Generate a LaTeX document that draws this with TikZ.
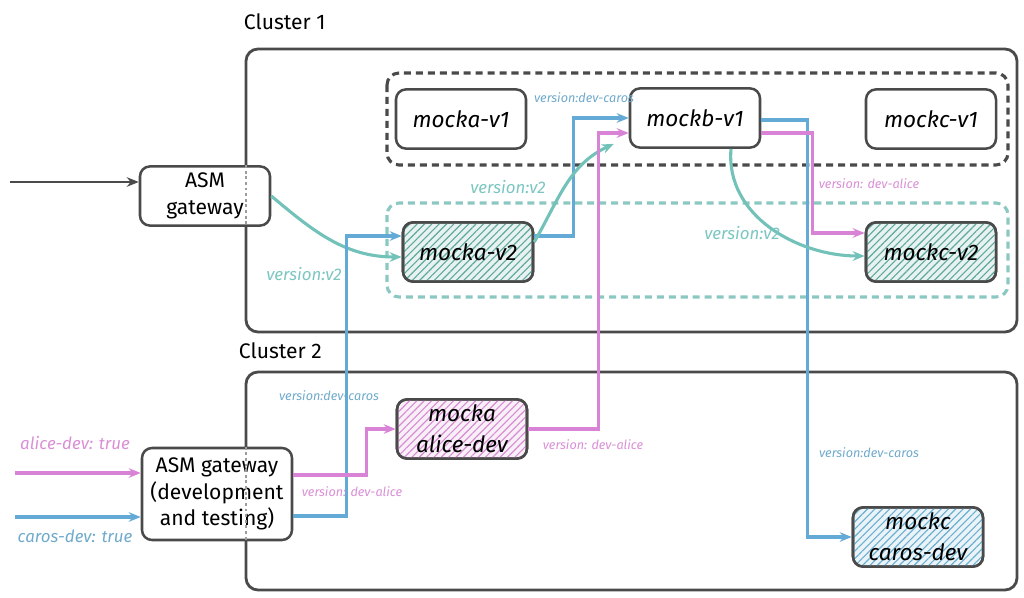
\documentclass[tikz,border=0pt]{standalone}
\usepackage{fontspec}
\setmainfont{Fira Sans}
\usetikzlibrary{arrows.meta,positioning,patterns.meta}
\definecolor{ink}{HTML}{4A4A4A}
\definecolor{tealline}{HTML}{72C2B9}
\definecolor{tealtext}{HTML}{7CC6C1}
\definecolor{tealgrp}{HTML}{8CC8C2}
\definecolor{tealhatch}{HTML}{5EA89C}
\definecolor{blueline}{HTML}{64AAD7}
\definecolor{bluetext}{HTML}{6FAACB}
\definecolor{bluehatch}{HTML}{6AAED0}
\definecolor{pinkline}{HTML}{D883D6}
\definecolor{pinktext}{HTML}{D98FD6}
\definecolor{pinkhatch}{HTML}{D58CD0}
\tikzset{
  cluster/.style={draw=ink, line width=2pt, rounded corners=3mm},
  grpblack/.style={draw=ink, line width=2.2pt, dash pattern=on 5pt off 3.5pt, rounded corners=3mm},
  grpteal/.style={grpblack, draw=tealgrp},
  svc/.style={draw=ink, line width=1.8pt, rounded corners=2.5mm, fill=white, align=center,
    minimum width=32.5mm, minimum height=14.8mm, font=\fontsize{16}{22}\selectfont\itshape},
  hatchbox/.style={svc, fill=#1!14, postaction={pattern={Lines[angle=45,distance=1.3mm,line width=0.8pt]},
    pattern color=#1}, postaction={draw=ink, line width=1.8pt}},
  gwbox/.style={svc, font=\fontsize{15}{19}\selectfont, inner sep=1pt},
  lbl/.style={font=\fontsize{9}{11}\selectfont\itshape},
  biglbl/.style={font=\fontsize{12}{14}\selectfont\itshape},
  arr/.style={-{Stealth[length=3mm,width=2.4mm]}, line width=1.5pt, draw=ink},
  tealarr/.style={arr, line width=2.2pt, draw=tealline},
  bluearr/.style={tealarr, draw=blueline},
  pinkarr/.style={tealarr, draw=pinkline}
}
\begin{document}
\begin{tikzpicture}[x=0.25mm,y=0.25mm]
  \useasboundingbox (0,0) rectangle (1024,-597);
  % clusters
  \draw[cluster] (246,-49) rectangle (1017,-332);
  \draw[cluster] (246,-372) rectangle (1017,-590);
  \coordinate (c1w) at (246,-49);
  \node[font=\fontsize{15}{17}\selectfont, anchor=west] (c1lbl) at (239,-22) {Cluster 1};
  \node[font=\fontsize{15}{17}\selectfont, anchor=west] (c2lbl) at (234,-351) {Cluster 2};
  \draw[grpblack] (387,-73) rectangle (1008,-165);
  \draw[grpteal] (387,-203) rectangle (1008,-297);

  % services
  \node[svc] (mav1) at (461,-119) {mocka-v1};
  \node[svc] (mbv1) at (695,-118) {mockb-v1};
  \node[svc] (mcv1) at (931,-119) {mockc-v1};
  \node[hatchbox=tealhatch] (mav2) at (468,-252) {mocka-v2};
  \node[hatchbox=tealhatch] (mcv2) at (931,-252) {mockc-v2};
  \node[hatchbox=pinkhatch] (maal) at (462,-429) {mocka\\alice-dev};
  \node[hatchbox=bluehatch] (mccd) at (918,-537) {mockc\\caros-dev};

  % gateways
  \node[gwbox] (gw) at (205,-196) {ASM\\gateway};
  \node[gwbox, minimum width=37.5mm, minimum height=23mm] (devgw) at (217,-494) {ASM gateway\\(development\\and testing)};
  \draw[ink!55, line width=1pt, dash pattern=on 2pt off 2pt] (gw.north -| c1w) -- (gw.south -| c1w);
  \draw[ink!55, line width=1pt, dash pattern=on 2pt off 2pt] (devgw.north -| c1w) -- (devgw.south -| c1w);

  % incoming traffic
  \coordinate (in1) at (10,-182);
  \coordinate (inA) at (15,-473);
  \coordinate (inC) at (15,-517);
  \draw[arr] (in1) -- (in1 -| gw.west);
  \draw[pinkarr] (inA) -- (inA -| devgw.west);
  \draw[bluearr] (inC) -- (inC -| devgw.west);
  \node[biglbl, text=pinktext] (lalice) at (75,-443) {alice-dev: true};
  \node[biglbl, text=bluetext] (lcaros) at (75,-536) {caros-dev: true};

  % routes into mocka
  \draw[tealarr] (gw.east) to[out=-40, in=180] ([yshift=-1.25mm]mav2.west);
  \node[biglbl, text=tealtext] (lv2a) at (304,-274) {version:v2};
  \draw[bluearr] ([yshift=-5.5mm]devgw.east) -- ++(13.25mm,0) |- ([yshift=4mm]mav2.west);
  \node[lbl, text=bluetext] (lcara) at (329,-396) {version:dev-caros};
  \draw[pinkarr] ([yshift=4.75mm]devgw.east) -- ++(18.25mm,0) |- (maal.west);
  \node[lbl, text=pinktext] (lalia) at (352,-492) {version: dev-alice};

  % routes into mockb
  \draw[bluearr] ([yshift=4mm]mav2.east) -- ++(9.75mm,0) |- (mbv1.west);
  \node[lbl, text=bluetext] (lcarb) at (584,-98) {version:dev-caros};
  \draw[tealarr] ([yshift=2.5mm]mav2.east) to[out=60, in=205] ([xshift=-3.75mm,yshift=1.25mm]mbv1.south west);
  \node[biglbl, text=tealtext] (lv2b) at (508,-187) {version:v2};
  \draw[pinkarr] (maal.east) -- ++(17.5mm,0) |- ([yshift=-3.75mm]mbv1.west);
  \node[lbl, text=pinktext] (lalib) at (593,-445) {version: dev-alice};

  % routes into mockc
  \draw[bluearr] ([yshift=-0.5mm]mbv1.east) -- ++(11.5mm,0) |- (mccd.west);
  \node[lbl, text=bluetext] (lcarc) at (869,-453) {version:dev-caros};
  \draw[pinkarr] ([yshift=-3.75mm]mbv1.east) -- ++(12.75mm,0) |- ([yshift=4.75mm]mcv2.west);
  \node[lbl, text=pinktext] (lalic) at (869,-184) {version: dev-alice};
  \draw[tealarr] ([xshift=9mm]mbv1.south) to[out=-95, in=180] ([yshift=-1mm]mcv2.west);
  \node[biglbl, text=tealtext] (lv2c) at (742,-233) {version:v2};
\end{tikzpicture}
\end{document}
